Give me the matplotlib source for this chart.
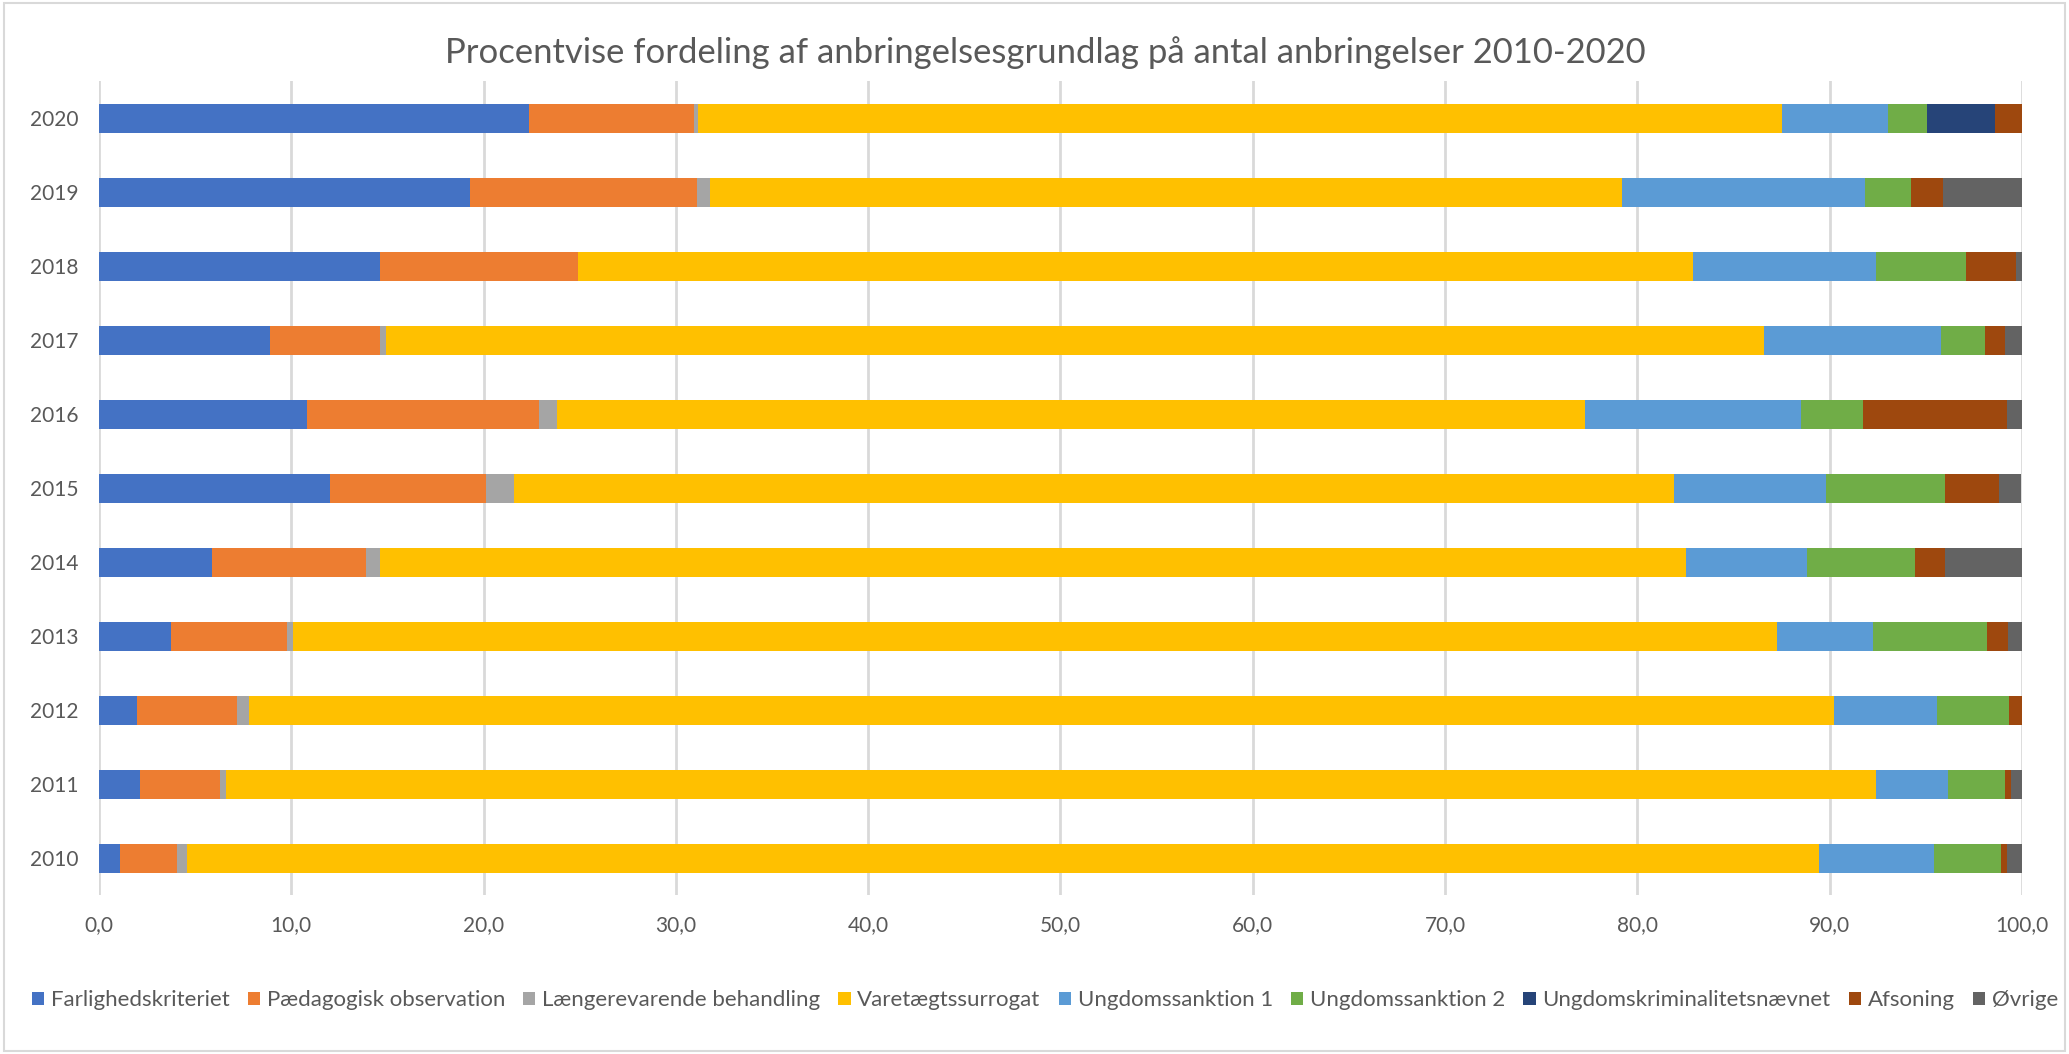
import numpy as np
import matplotlib.pyplot as plt
from matplotlib.patches import Patch, Rectangle

plt.rcParams['font.family'] = ['Lato', 'DejaVu Sans']

# Årstal (nederst 2010, øverst 2020)
years = ["2010", "2011", "2012", "2013", "2014", "2015", "2016", "2017", "2018", "2019", "2020"]

# Procentvise andele pr. anbringelsesgrundlag
farlighed = [1.09, 2.14, 2.00, 3.76, 5.90, 12.03, 10.82, 8.89, 14.63, 19.29, 22.36]
paedagogisk = [2.97, 4.15, 5.20, 6.01, 7.98, 8.08, 12.07, 5.74, 10.28, 11.82, 8.59]
laengerevarende = [0.54, 0.33, 0.60, 0.33, 0.75, 1.48, 0.93, 0.28, 0.0, 0.68, 0.21]
varetaegt = [84.86, 85.79, 82.41, 77.18, 67.88, 60.32, 53.48, 71.69, 58.00, 47.40, 56.34]
sanktion1 = [5.95, 3.74, 5.39, 4.97, 6.31, 7.90, 11.19, 9.19, 9.50, 12.65, 5.53]
sanktion2 = [3.52, 2.98, 3.71, 5.95, 5.60, 6.20, 3.23, 2.30, 4.70, 2.37, 2.05]
naevnet = [0.0, 0.0, 0.0, 0.0, 0.0, 0.0, 0.0, 0.0, 0.0, 0.0, 3.50]
afsoning = [0.29, 0.30, 0.78, 1.05, 1.58, 2.79, 7.48, 1.03, 2.58, 1.70, 1.40]
oevrige = [0.92, 0.71, 0.0, 0.73, 3.98, 1.13, 0.94, 0.88, 0.31, 4.09, 0.0]

series = [
    ("Farlighedskriteriet", farlighed, "#4472C4"),
    ("Pædagogisk observation", paedagogisk, "#ED7D31"),
    ("Længerevarende behandling", laengerevarende, "#A5A5A5"),
    ("Varetægtssurrogat", varetaegt, "#FFC000"),
    ("Ungdomssanktion 1", sanktion1, "#5B9BD5"),
    ("Ungdomssanktion 2", sanktion2, "#70AD47"),
    ("Ungdomskriminalitetsnævnet", naevnet, "#264478"),
    ("Afsoning", afsoning, "#9E480E"),
    ("Øvrige", oevrige, "#636363"),
]

fig = plt.figure(figsize=(20.69, 10.54), dpi=100)
ax = fig.add_axes([0.0478, 0.1504, 0.9295, 0.7723])

y = np.arange(len(years))
left = np.zeros(len(years))
handles = []
for name, vals, col in series:
    vals = np.array(vals)
    ax.barh(y, vals, left=left, height=0.4, color=col, zorder=3)
    left += vals
    handles.append(Patch(facecolor=col, label=name))

ax.set_xlim(0, 100)
ax.set_ylim(-0.5, len(years) - 0.5)
ax.set_yticks(y)
ax.set_yticklabels(years)
ticks = np.arange(0, 101, 10)
ax.set_xticks(ticks)
ax.set_xticklabels([f"{t:.1f}".replace(".", ",") for t in ticks])
ax.tick_params(axis="both", length=0, labelsize=15, colors="#595959")
ax.tick_params(axis="x", pad=14)
ax.tick_params(axis="y", pad=15)
ax.grid(axis="x", color="#D9D9D9", linewidth=2, zorder=0)
for s in ax.spines.values():
    s.set_visible(False)

fig.text(0.5054, 0.95, "Procentvise fordeling af anbringelsesgrundlag på antal anbringelser 2010-2020",
         ha="center", va="center", fontsize=24.9, color="#595959")

fig.legend(handles=handles, loc="center", bbox_to_anchor=(0.505, 0.051), ncol=9,
           frameon=False, fontsize=16, labelcolor="#595959",
           handlelength=0.55, handleheight=0.55, handletextpad=0.3, columnspacing=0.82,
           borderaxespad=0, borderpad=0)

fig.patches.append(Rectangle((0.002, 0.003), 0.996, 0.994, transform=fig.transFigure,
                             fill=False, edgecolor="#D9D9D9", linewidth=1.5))

fig.savefig("out.png", dpi=100)
